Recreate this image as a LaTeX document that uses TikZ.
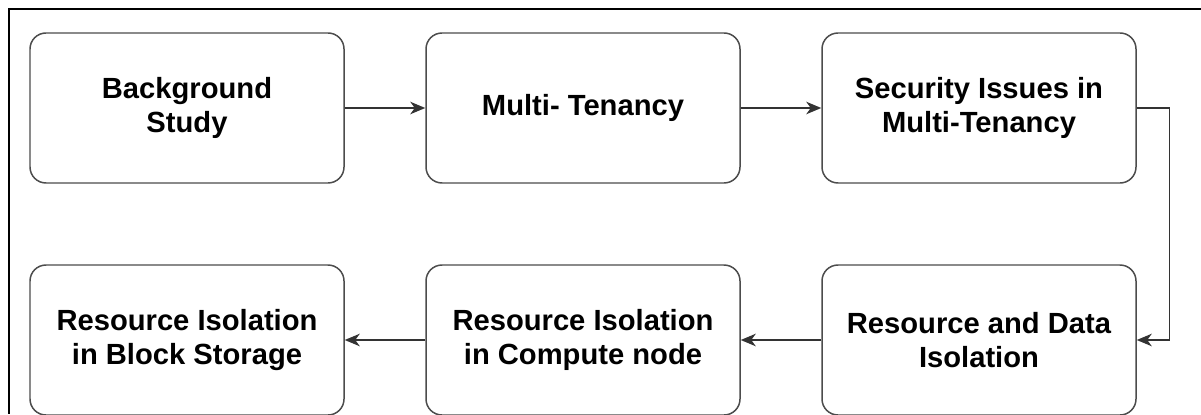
\documentclass[tikz,border=0pt]{standalone}
\usepackage{fontspec}
\setmainfont{Liberation Sans}
\usetikzlibrary{arrows.meta}

\begin{document}
\begin{tikzpicture}[
  stage/.style={draw=black!70, line width=0.85pt, rounded corners=0.32cm,
    minimum width=6.28cm, minimum height=3cm, align=center,
    font=\fontsize{16.6}{19.8}\selectfont\bfseries},
  link/.style={draw=black!80, line width=0.8pt,
    -{Stealth[length=0.3cm, width=0.25cm, inset=0.09cm]}}
]

\def\dx{7.92}
\def\top{6.12}
\def\bot{1.48}

\useasboundingbox (0,0) rectangle (24.02,8.28);

% frame
\draw[line width=1.4pt] (24.02,8.1) -- (0.18,8.1) -- (0.18,0);

% row 1
\node[stage] (bg)  at (3.74,\top)       {Background\\Study};
\node[stage] (mt)  at (3.74+\dx,\top)   {Multi- Tenancy};
\node[stage] (sec) at (3.74+2*\dx,\top) {Security Issues in\\Multi-Tenancy};

% row 2
\node[stage] (rdi) at (3.74+2*\dx,\bot) {Resource and Data\\Isolation};
\node[stage] (rcn) at (3.74+\dx,\bot)   {Resource Isolation\\in Compute node};
\node[stage] (rbs) at (3.74,\bot)       {Resource Isolation\\in Block Storage};

\draw[link] (bg) -- (mt);
\draw[link] (mt) -- (sec);
\draw[link] (sec.east) -- ++(0.66,0) |- (rdi.east);
\draw[link] (rdi) -- (rcn);
\draw[link] (rcn) -- (rbs);

\end{tikzpicture}
\end{document}
